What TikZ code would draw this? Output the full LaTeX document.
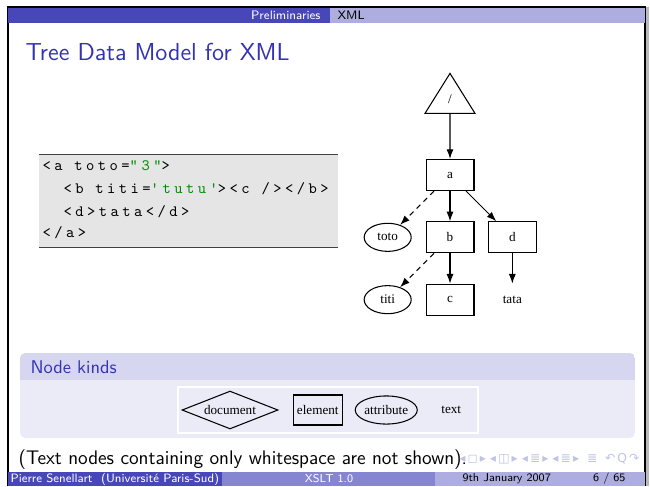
\documentclass[tikz,border=0pt]{standalone}
\usepackage{fontspec}
\usepackage{tikz}
\usetikzlibrary{positioning,shapes.geometric,arrows.meta}
\newfontfamily\dotfont{Liberation Serif}
\newfontfamily\codefont{lmmono10-regular.otf}[LetterSpace=22,Ligatures=TeXOff]
\newfontfamily\navfont{DejaVu Sans}
\definecolor{structure}{rgb}{0.2,0.2,0.7}
\colorlet{headdark}{structure!90}
\colorlet{headlight}{structure!40}
\colorlet{footmid}{structure!60}
\colorlet{blocktitle}{structure!20}
\colorlet{blockbody}{structure!10}
\definecolor{codebg}{gray}{0.9}
\definecolor{strgreen}{rgb}{0,0.55,0}

\begin{document}
\begin{tikzpicture}[x=0.5696pt, y=-0.5696pt, >={Latex[length=5.5pt,width=4pt]},
	node distance=35.5pt and 35.5pt, on grid, semithick,
	elem/.style={draw, rectangle, minimum width=27.3pt, minimum height=17.7pt,
		inner sep=0pt, font=\dotfont\fontsize{7.5}{9}\selectfont},
	attr/.style={draw, ellipse, minimum width=26.8pt, minimum height=16pt,
		inner sep=0pt, font=\dotfont\fontsize{7.5}{9}\selectfont},
	txt/.style={rectangle, minimum width=27.3pt, minimum height=17.7pt,
		inner sep=0pt, font=\dotfont\fontsize{7.5}{9}\selectfont},
	docnode/.style={draw, isosceles triangle, isosceles triangle stretches,
		shape border rotate=90, minimum width=28.5pt, minimum height=22.8pt,
		inner sep=0pt, font=\dotfont\fontsize{7.5}{9}\selectfont},
	kind/.style={draw, diamond, aspect=2.5, minimum width=54.7pt, minimum height=21.6pt,
		inner sep=0pt, font=\dotfont\fontsize{7.5}{9}\selectfont},
	ref/.style={dash pattern=on 3pt off 2.5pt},
	codeline/.style={anchor=base west, inner sep=0pt,
		font=\codefont\fontsize{9}{11}\selectfont},
	bar/.style={inner sep=0pt, font=\sffamily\fontsize{6.5}{7.5}\selectfont}]
	\useasboundingbox (0,0) rectangle (650,486);
	% slide frame
	\fill[gray!55] (645,7) rectangle (648.5,486);
	\draw[line width=0.6pt] (8,486) -- (8,7) -- (645,7) -- (645,486);
	% head line
	\fill[headdark] (8,8) rectangle (330,23);
	\fill[headlight] (330,8) rectangle (645,23);
	\node[bar, anchor=east, text=white, font=\sffamily\fontsize{7}{8}\selectfont] (section) at (321,15.5) {Preliminaries};
	\node[bar, anchor=west, font=\sffamily\fontsize{7}{8}\selectfont] (subsection) at (337,15.5) {XML};
	\node[anchor=base west, inner sep=0pt, text=structure, font=\sffamily\fontsize{14}{16}\selectfont] (frametitle) at (25,60) {Tree Data Model for XML};
	% source
	\fill[codebg] (39,154) rectangle (338,247.5);
	\draw[line width=0.5pt, black!75] (39,154) -- (338,154) (39,247.5) -- (338,247.5);
	\node[codeline] (l1) at (42,170) {<a toto=\textcolor{strgreen}{"3"}>};
	\node[codeline] (l2) at (63,193) {<b titi=\textcolor{strgreen}{'tutu'}><c /></b>};
	\node[codeline] (l3) at (63,216) {<d>tata</d>};
	\node[codeline] (l4) at (42,237) {</a>};
	% tree
	\node[docnode, anchor=apex] (root) at (450,72) {/};
	\node[elem] (a) at (450,175) {a};
	\node[elem, below=of a] (b) {b};
	\node[elem, below=of b] (c) {c};
	\node[elem, right=of b] (d) {d};
	\node[attr, left=of b] (toto) {toto};
	\node[attr, left=of c] (titi) {titi};
	\node[txt, below=of d] (tata) {tata};
	\draw[->] (root) -- (a);
	\draw[->, ref] (a) -- (toto);
	\draw[->] (a) -- (b);
	\draw[->] (a) -- (d);
	\draw[->, ref] (b) -- (titi);
	\draw[->] (b) -- (c);
	\draw[->] (d) -- (tata);
	% node kinds
	\begin{scope}
		\clip[rounded corners=3pt] (20,353) rectangle (635,438);
		\fill[blockbody] (20,353) rectangle (635,438);
		\fill[blocktitle] (20,353) rectangle (635,380);
	\end{scope}
	\node[anchor=base west, inner sep=0pt, text=structure, font=\sffamily\fontsize{10.5}{12}\selectfont] (kindstitle) at (30,373) {Node kinds};
	\draw[white, line width=0.6pt] (178,387) rectangle (478,433);
	\node[kind] (document) at (230,410) {document};
	\node[elem, right=50pt of document, minimum width=27.9pt, minimum height=17.1pt] (element) {element};
	\node[attr, right=39pt of element, minimum width=34pt] (attribute) {attribute};
	\node[txt, right=37pt of attribute] (textkind) {text};
	\node[anchor=base west, inner sep=0pt, font=\sffamily\fontsize{11.2}{13}\selectfont] (remark) at (18,464) {(Text nodes containing only whitespace are not shown).};
	\node[anchor=east, inner sep=0pt, text=structure!30, font=\navfont\fontsize{7}{8}\selectfont] (nav) at (640,459) {◂\,◻\,▸ ◂\,◫\,▸ ◂\,≣\,▸ ◂\,≣\,▸ \ ≣ \ ↶\,Q\,↷};
	% foot line
	\fill[headdark] (8,472) rectangle (222,486);
	\fill[footmid] (222,472) rectangle (435,486);
	\fill[headlight] (435,472) rectangle (645,486);
	\node[bar, anchor=west, text=white, font=\sffamily\fontsize{6.9}{7.5}\selectfont] (author) at (10,479) {Pierre Senellart\ \ (Université Paris-Sud)};
	\node[bar, text=white] (talk) at (329,479) {XSLT 1.0};
	\node[bar, anchor=west] (date) at (462,479) {9th January 2007};
	\node[bar, anchor=east] (page) at (626,479) {6 / 65};
\end{tikzpicture}
\end{document}
